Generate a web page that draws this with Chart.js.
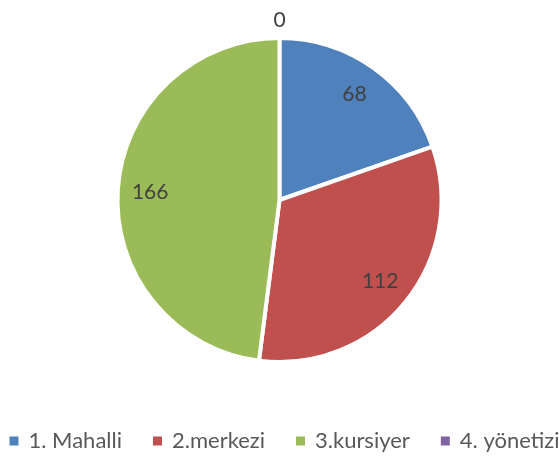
<!DOCTYPE html>
<html>
<head>
<meta charset="utf-8">
<script src="https://cdn.jsdelivr.net/npm/chart.js@4.4.0/dist/chart.umd.min.js"></script>
<style>
  html, body { margin: 0; padding: 0; background: #fff; }
  #wrap { width: 559px; height: 457px; }
</style>
</head>
<body>
<div id="wrap"><canvas id="pieChart" width="559" height="457"></canvas></div>
<script>
// data
const categories = ['1. Mahalli', '2.merkezi', '3.kursiyer', '4. yönetizi'];
const values = [68, 112, 166, 0];
const colors = ['#4F81BD', '#C0504D', '#9BBB59', '#8064A2'];

const FONT = 'Lato, "Open Sans", sans-serif';
const LABEL_COLOR = '#404040';
const LEGEND_COLOR = '#595959';

// value labels inside the slices (zero slice gets its label outside)
const valueLabels = {
    id: 'valueLabels',
    afterDatasetsDraw(chart) {
        const ctx = chart.ctx;
        const meta = chart.getDatasetMeta(0);
        ctx.save();
        ctx.font = '21px ' + FONT;
        ctx.fillStyle = LABEL_COLOR;
        ctx.textAlign = 'center';
        ctx.textBaseline = 'middle';
        meta.data.forEach((arc, i) => {
            const p = arc.getProps(['x', 'y', 'startAngle', 'endAngle', 'outerRadius'], true);
            const mid = (p.startAngle + p.endAngle) / 2;
            const r = values[i] > 0 ? p.outerRadius * 0.8 : p.outerRadius + 18;
            ctx.fillText(String(values[i]), p.x + Math.cos(mid) * r, p.y + Math.sin(mid) * r);
        });
        ctx.restore();
    }
};

// legend row under the pie, Excel style
const bottomLegend = {
    id: 'bottomLegend',
    afterDraw(chart) {
        const ctx = chart.ctx;
        const bg = chart.data.datasets[0].backgroundColor;
        const box = 9, gapIn = 10, gapOut = 31;
        ctx.save();
        ctx.font = '22px ' + FONT;
        ctx.textBaseline = 'middle';
        ctx.textAlign = 'left';
        const widths = chart.data.labels.map(t => ctx.measureText(t).width);
        const total = widths.reduce((s, w) => s + box + gapIn + w, 0) + gapOut * (widths.length - 1);
        let x = 284.5 - total / 2;
        const y = 441;
        chart.data.labels.forEach((t, i) => {
            ctx.fillStyle = bg[i];
            ctx.fillRect(x, y - box / 2, box, box);
            x += box + gapIn;
            ctx.fillStyle = LEGEND_COLOR;
            ctx.fillText(t, x, y);
            x += widths[i] + gapOut;
        });
        ctx.restore();
    }
};

new Chart(document.getElementById('pieChart'), {
    type: 'pie',
    data: {
        labels: categories,
        datasets: [{
            data: values,
            backgroundColor: colors,
            borderColor: '#ffffff',
            borderWidth: 4
        }]
    },
    options: {
        responsive: false,
        animation: false,
        layout: { padding: { top: 36, bottom: 93, left: 0, right: 0 } },
        plugins: {
            legend: { display: false },
            tooltip: { enabled: false }
        }
    },
    plugins: [valueLabels, bottomLegend]
});
</script>
</body>
</html>
